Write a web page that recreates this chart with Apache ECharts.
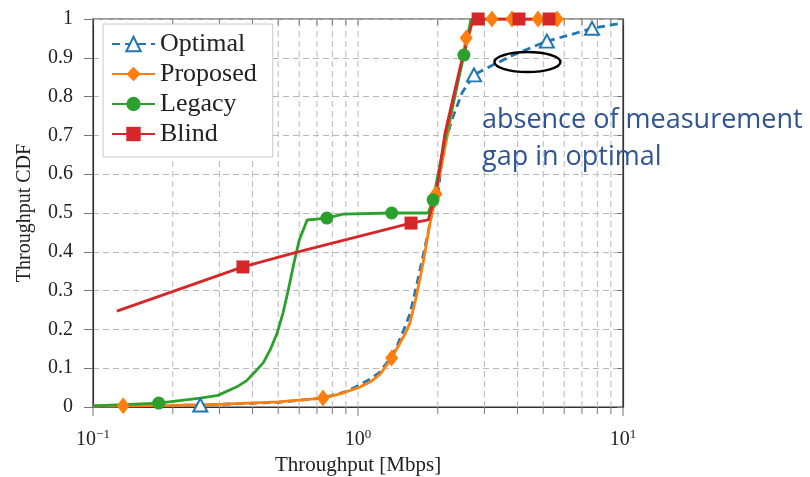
<!DOCTYPE html>
<html><head><meta charset="utf-8">
<script src="https://cdn.jsdelivr.net/npm/echarts@6/dist/echarts.min.js"></script>
<style>html,body{margin:0;padding:0;background:#fff}#c{width:810px;height:477px}</style>
</head><body><div id="c"></div>
<script>
// ---------- data ----------
const seriesNames = ['Optimal', 'Proposed', 'Legacy', 'Blind'];
const xMajorTicks = [0.1, 1, 10];
const xMinorTicks = [0.2, 0.3, 0.4, 0.5, 0.6, 0.7, 0.8, 0.9, 2, 3, 4, 5, 6, 7, 8, 9];
const annotationLines = ['absence of measurement', 'gap in optimal'];
const ellipseCenter = [4.36, 0.889];

const optimalLineX = [0.1, 0.5, 0.75, 0.9, 1.0, 1.1, 1.2, 1.3, 1.4, 1.5, 1.57, 1.66, 1.76, 1.84, 1.9, 2.0, 2.09, 2.26, 2.47, 3.07, 3.85, 6.31, 10];
const optimalLineY = [0.002, 0.012, 0.024, 0.04, 0.055, 0.07, 0.088, 0.118, 0.155, 0.205, 0.24, 0.31, 0.39, 0.45, 0.5, 0.545, 0.66, 0.74, 0.81, 0.874, 0.907, 0.959, 0.99];
const optimalMarkX = [0.254, 2.74, 5.16, 7.64];
const optimalMarkY = [0.005, 0.856, 0.943, 0.976];

const proposedLineX = [0.1, 0.2, 0.3, 0.5, 0.877, 1.02, 1.12, 1.21, 1.44, 1.51, 1.57, 1.66, 1.76, 1.87, 2.2, 2.72, 6.04];
const proposedLineY = [0.002, 0.004, 0.007, 0.013, 0.036, 0.052, 0.066, 0.084, 0.165, 0.19, 0.216, 0.285, 0.371, 0.474, 0.72, 1.0, 1.0];
const proposedMarkX = [0.13, 0.738, 1.34, 1.97, 2.56, 3.20, 3.81, 4.78, 5.64];
const proposedMarkY = [0.003, 0.023, 0.126, 0.549, 0.951, 1, 1, 1, 1];

const legacyLineX = [0.1, 0.254, 0.296, 0.349, 0.38, 0.408, 0.44, 0.466, 0.495, 0.521, 0.545, 0.569, 0.6, 0.643, 0.877, 1.84, 2.13, 2.67];
const legacyLineY = [0.003, 0.023, 0.03, 0.052, 0.068, 0.09, 0.115, 0.147, 0.19, 0.242, 0.3, 0.361, 0.43, 0.482, 0.497, 0.5, 0.69, 1.0];
const legacyMarkX = [0.177, 0.763, 1.34, 1.92, 2.51];
const legacyMarkY = [0.01, 0.487, 0.5, 0.534, 0.907];

const blindLineX = [0.123, 0.594, 1.84, 1.97, 2.13, 2.43, 2.72];
const blindLineY = [0.247, 0.40, 0.482, 0.55, 0.706, 0.876, 1.0];
const blindMarkX = [0.368, 1.585, 2.84, 4.05, 5.26];
const blindMarkY = [0.361, 0.474, 1, 1, 1];

// ---------- helpers ----------
function buildPoints(lx, ly, mx, my) {
  const pts = [];
  lx.forEach((x, i) => pts.push([x, ly[i], 0]));
  mx.forEach((x, i) => pts.push([x, my[i], 1]));
  pts.sort((a, b) => a[0] - b[0]);
  return pts;
}
const SERIF = '"Liberation Serif", "DejaVu Serif", serif';
const C = { blue: '#1f77b4', orange: '#ff7f0e', green: '#2ca02c', red: '#d62728' };
const GRID_COLOR = '#b8b8b8';
const TICK_COLOR = '#777';

const chart = echarts.init(document.getElementById('c'), null, { renderer: 'canvas' });

function lineSeries(name, data, color, symbol, size, extra) {
  return Object.assign({
    name, type: 'line', data,
    symbol, showAllSymbol: true,
    symbolSize: (v) => (v[2] ? size : 0),
    lineStyle: { color, width: 2.8 },
    itemStyle: { color },
    emphasis: { disabled: true },
    z: 3
  }, extra || {});
}

const allXLines = xMajorTicks.concat(xMinorTicks).map(v => [v, 0]);

const option = {
  animation: false,
  backgroundColor: '#fff',
  grid: { left: 93, right: 187, top: 19, bottom: 70, show: true, borderColor: '#333', borderWidth: 1.2, backgroundColor: 'transparent', outerBoundsMode: 'none', containLabel: false },
  xAxis: {
    type: 'log', logBase: 10, min: 0.1, max: 10,
    axisLine: { show: true, onZero: false, lineStyle: { color: '#333', width: 1.2 } },
    axisTick: { show: false },
    splitLine: { show: false },
    axisLabel: {
      margin: 21,
      formatter: (v) => {
        const e = Math.round(Math.log10(v));
        return '{b|10}{s|' + (e < 0 ? '\u2212' + (-e) : e) + '}';
      },
      rich: {
        b: { fontFamily: SERIF, fontSize: 20, color: '#222', lineHeight: 24 },
        s: { fontFamily: SERIF, fontSize: 13, color: '#222', lineHeight: 12, verticalAlign: 'top' }
      }
    },
    name: 'Throughput [Mbps]', nameLocation: 'middle', nameGap: 44,
    nameTextStyle: { fontFamily: SERIF, fontSize: 21, color: '#222' }
  },
  yAxis: [{
    type: 'value', min: 0, max: 1, interval: 0.1,
    axisLine: { show: true, lineStyle: { color: '#333', width: 1.2 } },
    axisTick: { show: true, length: 9, lineStyle: { color: TICK_COLOR } },
    axisLabel: { margin: 20, fontFamily: SERIF, fontSize: 20, color: '#222', formatter: (v) => String(Math.round(v * 10) / 10) },
    splitLine: { show: true, lineStyle: { color: GRID_COLOR, type: [6, 4], width: 1 } },
    name: 'Throughput CDF', nameLocation: 'middle', nameGap: 58,
    nameTextStyle: { fontFamily: SERIF, fontSize: 20, color: '#222' }
  }, {
    type: 'value', min: 0, max: 1, interval: 0.1, position: 'right',
    axisLine: { show: true, lineStyle: { color: '#333', width: 1.2 } },
    axisTick: { show: true, inside: true, length: 6, lineStyle: { color: TICK_COLOR } },
    axisLabel: { show: false }, splitLine: { show: false }
  }],
  legend: {
    data: seriesNames, orient: 'vertical', left: 103, top: 24,
    padding: [7, 16, 10, 8], itemGap: 4, itemWidth: 43, itemHeight: 18,
    backgroundColor: '#fff', borderColor: '#c8c8c8', borderWidth: 1, borderRadius: 0,
    textStyle: { fontFamily: SERIF, fontSize: 26, color: '#222', lineHeight: 26 },
    selectedMode: false
  },
  series: [
    {
      type: 'custom', silent: true, z: 1, clip: false,
      data: allXLines, encode: { x: 0, y: 1 },
      renderItem: (params, api) => {
        const v = api.value(0);
        const b = api.coord([v, 0]);
        const t = api.coord([v, 1]);
        const major = xMajorTicks.indexOf(v) >= 0;
        const children = [];
        if (v > 0.1 && v < 10) {
          children.push({ type: 'line', shape: { x1: b[0], y1: b[1], x2: t[0], y2: t[1] }, style: { stroke: GRID_COLOR, lineWidth: 1, lineDash: [6, 4] } });
        }
        children.push({ type: 'line', shape: { x1: b[0], y1: b[1], x2: b[0], y2: b[1] + (major ? 9 : 7) }, style: { stroke: TICK_COLOR, lineWidth: 1 } });
        children.push({ type: 'line', shape: { x1: t[0], y1: t[1], x2: t[0], y2: t[1] + 6 }, style: { stroke: TICK_COLOR, lineWidth: 1 } });
        return { type: 'group', children };
      }
    },
    lineSeries('Optimal', buildPoints(optimalLineX, optimalLineY, optimalMarkX, optimalMarkY), C.blue, 'triangle', [14, 13],
      { lineStyle: { color: C.blue, width: 2.8, type: [8, 5] }, itemStyle: { color: '#fff', borderColor: C.blue, borderWidth: 2 } }),
    lineSeries('Proposed', buildPoints(proposedLineX, proposedLineY, proposedMarkX, proposedMarkY), C.orange, 'diamond', [13, 17]),
    lineSeries('Legacy', buildPoints(legacyLineX, legacyLineY, legacyMarkX, legacyMarkY), C.green, 'circle', 13),
    lineSeries('Blind', buildPoints(blindLineX, blindLineY, blindMarkX, blindMarkY), C.red, 'rect', 13)
  ]
};
chart.setOption(option);

const ec = chart.convertToPixel({ gridIndex: 0 }, ellipseCenter);
chart.setOption({
  graphic: [
    { type: 'ellipse', shape: { cx: ec[0], cy: ec[1], rx: 33, ry: 10 }, style: { fill: 'none', stroke: '#000', lineWidth: 2.4 }, z: 10 },
    { type: 'text', x: 482, y: 120, style: { text: annotationLines[0], font: '27px "Open Sans"', fill: '#2e5495', verticalAlign: 'middle' }, z: 10 },
    { type: 'text', x: 482, y: 157, style: { text: annotationLines[1], font: '27px "Open Sans"', fill: '#2e5495', verticalAlign: 'middle' }, z: 10 }
  ]
});
</script>
</body></html>
